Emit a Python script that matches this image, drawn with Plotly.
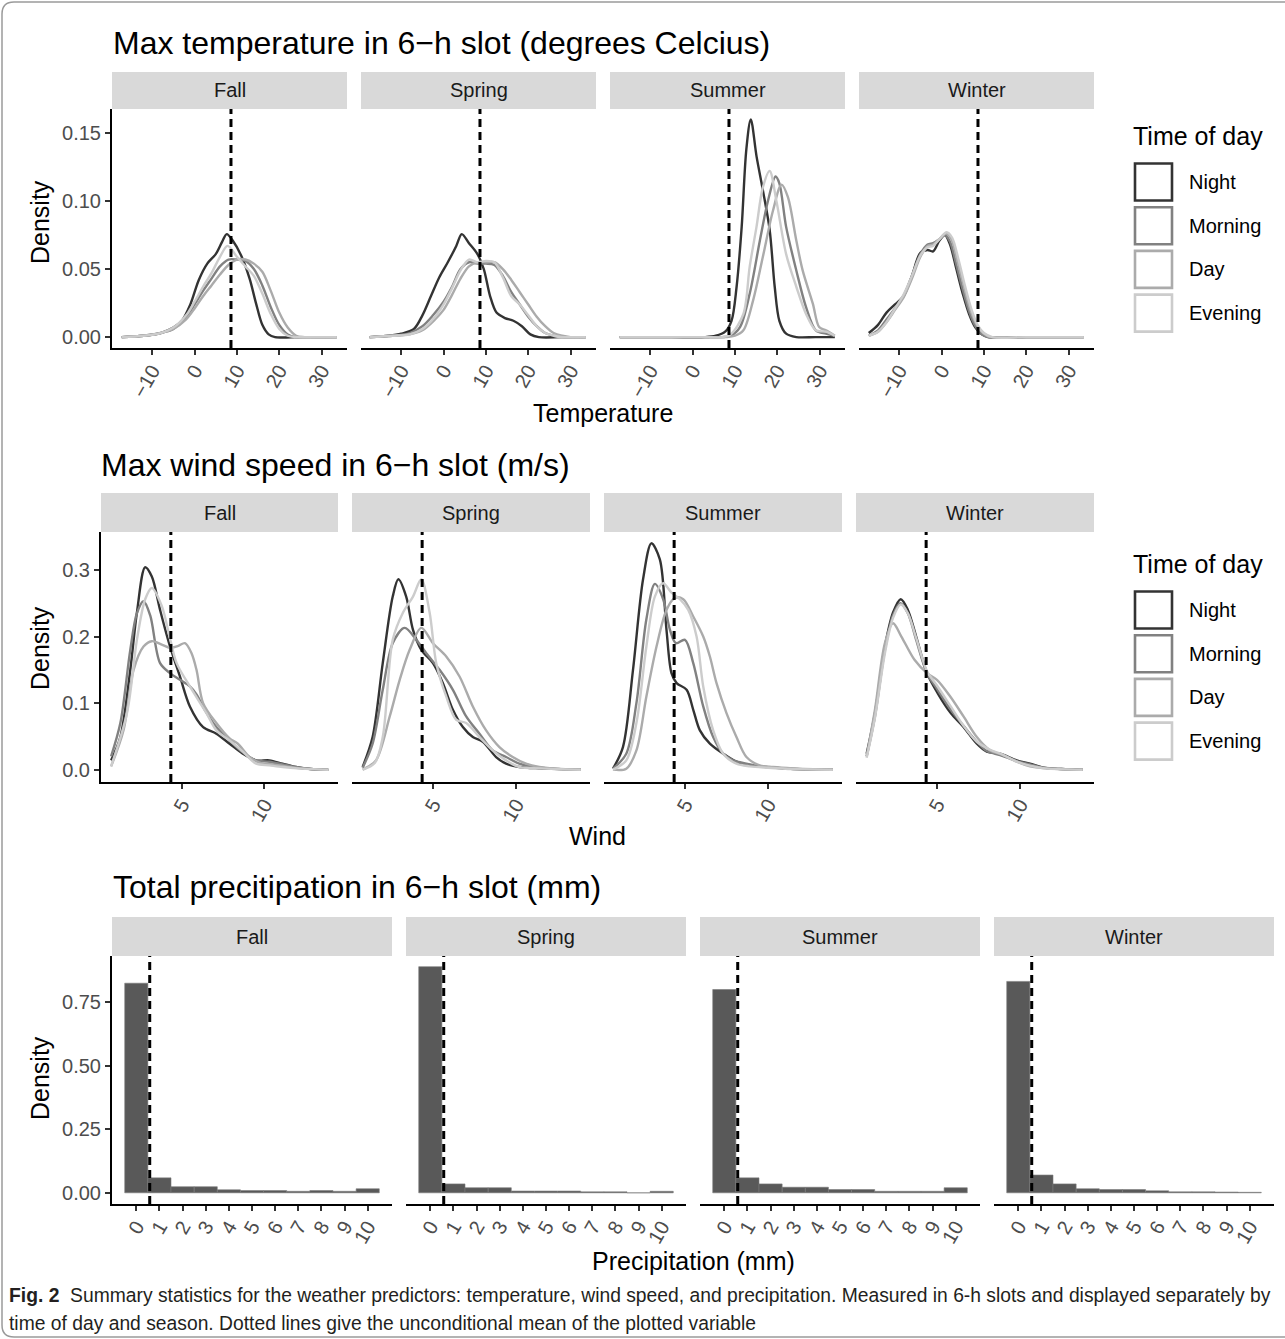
import plotly.graph_objects as go

W, H = 1285, 1339
FONT = "Liberation Sans, Arial, sans-serif"

# ---------------- categories ----------------
seasons = ["Fall", "Spring", "Summer", "Winter"]
times = ["Night", "Morning", "Day", "Evening"]
time_colors = ["#333333", "#818181", "#ABABAB", "#CCCCCC"]

# ---------------- tick labels ----------------
temp_ticks = [-10, 0, 10, 20, 30]
temp_ticklabels = ["−10", "0", "10", "20", "30"]
wind_ticks = [5, 10]
wind_ticklabels = ["5", "10"]
precip_ticks = [0, 1, 2, 3, 4, 5, 6, 7, 8, 9, 10]
precip_ticklabels = ["0", "1", "2", "3", "4", "5", "6", "7", "8", "9", "10"]
temp_yticks = [0.0, 0.05, 0.10, 0.15]
wind_yticks = [0.0, 0.1, 0.2, 0.3]
precip_yticks = [0.0, 0.25, 0.50, 0.75]

# ---------------- unconditional means (dashed lines) ----------------
temp_mean = 8.6
wind_mean = 4.35
precip_mean = 0.58

# ---------------- temperature densities (T, density) ----------------
temp_fall_night = [(-17.2, 0), (-12, 0.001), (-8, 0.003), (-5, 0.007), (-3, 0.012), (-1, 0.024), (1, 0.042), (3, 0.054), (5, 0.061), (6.5, 0.07), (7.6, 0.0757), (9, 0.071), (11, 0.06), (13, 0.043), (14.5, 0.025), (16, 0.009), (17.5, 0.002), (19, 0.0), (25, 0), (33.6, 0)]
temp_fall_morning = [(-17.2, 0), (-12, 0.001), (-8, 0.003), (-5, 0.006), (-2, 0.015), (0, 0.024), (2, 0.034), (4, 0.043), (6, 0.052), (8, 0.057), (10, 0.057), (12, 0.056), (14, 0.05), (16, 0.038), (18, 0.022), (20, 0.009), (22, 0.002), (24, 0), (29, 0), (33.6, 0)]
temp_fall_day = [(-17.2, 0), (-12, 0.001), (-8, 0.003), (-5, 0.006), (-2, 0.013), (0, 0.021), (2, 0.03), (4, 0.038), (6, 0.046), (8, 0.053), (10, 0.057), (12, 0.057), (14, 0.054), (16, 0.048), (18, 0.034), (20, 0.018), (22, 0.007), (24, 0.001), (26, 0), (33.6, 0)]
temp_fall_evening = [(-17.2, 0), (-12, 0.001), (-8, 0.003), (-5, 0.007), (-2, 0.016), (0, 0.026), (2, 0.037), (4, 0.047), (6, 0.059), (7.8, 0.067), (10, 0.059), (12, 0.052), (14, 0.045), (16, 0.032), (18, 0.017), (20, 0.006), (22, 0.001), (24, 0), (29, 0), (33.6, 0)]

temp_spring_night = [(-17.5, 0), (-13, 0.001), (-10, 0.0025), (-7, 0.006), (-5, 0.016), (-3, 0.03), (-1, 0.044), (1, 0.055), (3, 0.067), (4.3, 0.0757), (6, 0.069), (8, 0.061), (9.5, 0.05), (11, 0.03), (12.5, 0.018), (14.5, 0.014), (16.5, 0.012), (18.5, 0.008), (20.5, 0.002), (22.5, 0), (28, 0), (33.6, 0)]
temp_spring_morning = [(-17.5, 0), (-12, 0.001), (-8, 0.003), (-5, 0.008), (-2.5, 0.016), (0, 0.026), (2, 0.037), (4, 0.05), (6, 0.055), (8, 0.054), (10, 0.054), (12, 0.053), (14, 0.045), (16, 0.033), (18, 0.024), (20, 0.015), (22, 0.008), (24, 0.003), (26, 0.001), (28, 0), (33.6, 0)]
temp_spring_day = [(-17.5, 0), (-12, 0.001), (-8, 0.002), (-5, 0.005), (-2, 0.013), (0, 0.02), (2, 0.031), (4, 0.043), (6, 0.052), (8, 0.055), (10, 0.055), (12, 0.055), (14, 0.05), (16, 0.042), (18, 0.033), (20, 0.024), (22, 0.015), (24, 0.008), (26, 0.003), (28, 0.001), (30, 0), (33.6, 0)]
temp_spring_evening = [(-17.5, 0), (-12, 0.001), (-8, 0.002), (-5, 0.006), (-2, 0.015), (0, 0.024), (2, 0.036), (4, 0.049), (6, 0.057), (8, 0.055), (10, 0.056), (12, 0.055), (14, 0.044), (16, 0.03), (18, 0.024), (20, 0.016), (22, 0.008), (24, 0.003), (26, 0.001), (28, 0), (33.6, 0)]

temp_summer_night = [(-17.2, 0), (-5, 0), (3, 0), (5.5, 0.001), (7.7, 0.004), (9.2, 0.012), (10.4, 0.037), (11.6, 0.081), (12.7, 0.138), (13.75, 0.16), (15.1, 0.133), (16.6, 0.108), (18.2, 0.079), (19.4, 0.037), (20.5, 0.012), (22.1, 0.0025), (24.5, 0), (29, 0), (33.6, 0)]
temp_summer_morning = [(-17.2, 0), (-5, 0), (3, 0), (7, 0), (9, 0.001), (11.2, 0.0074), (13.5, 0.032), (15.9, 0.071), (17.8, 0.1), (19.6, 0.118), (20.5, 0.113), (22.1, 0.081), (24.5, 0.049), (26.8, 0.022), (29.1, 0.005), (31.5, 0.0025), (33.6, 0.001)]
temp_summer_day = [(-17.2, 0), (-5, 0), (3, 0), (8, 0), (10, 0.001), (12, 0.005), (14.3, 0.027), (16.6, 0.059), (19, 0.093), (21, 0.112), (22.5, 0.103), (24.5, 0.071), (26, 0.049), (28.4, 0.0246), (29.9, 0.0074), (31.5, 0.005), (33.6, 0.001)]
temp_summer_evening = [(-17.2, 0), (-5, 0), (3, 0), (7, 0), (9, 0.002), (12, 0.017), (13.5, 0.052), (15.1, 0.081), (16.6, 0.11), (18.2, 0.122), (19.8, 0.1), (22.1, 0.061), (24.5, 0.037), (26.8, 0.017), (29.1, 0.005), (31.5, 0.004), (33.6, 0.001)]

temp_winter_night = [(-17.2, 0.003), (-15, 0.009), (-13, 0.018), (-11, 0.024), (-9, 0.03), (-7, 0.045), (-5, 0.062), (-3.3, 0.064), (-2, 0.063), (-0.5, 0.071), (0.8, 0.075), (2, 0.068), (3.5, 0.05), (5, 0.032), (6.5, 0.017), (8, 0.007), (9.5, 0.002), (11, 0), (20, 0), (33.6, 0)]
temp_winter_morning = [(-17.2, 0.001), (-15, 0.005), (-13, 0.013), (-11, 0.021), (-9, 0.03), (-7, 0.045), (-5, 0.061), (-3.3, 0.068), (-2, 0.069), (-0.5, 0.072), (0.8, 0.075), (2, 0.07), (3.5, 0.053), (5, 0.035), (6.5, 0.019), (8, 0.008), (9.5, 0.002), (11, 0), (20, 0), (33.6, 0)]
temp_winter_day = [(-17.2, 0.001), (-15, 0.004), (-13, 0.011), (-11, 0.02), (-9, 0.029), (-7, 0.043), (-5, 0.059), (-3.3, 0.067), (-2, 0.068), (-0.5, 0.072), (1, 0.076), (2.3, 0.072), (3.8, 0.055), (5.3, 0.037), (6.8, 0.02), (8.3, 0.009), (9.8, 0.003), (11.5, 0), (20, 0), (33.6, 0)]
temp_winter_evening = [(-17.2, 0.001), (-15, 0.004), (-13, 0.011), (-11, 0.021), (-9, 0.031), (-7, 0.045), (-5, 0.06), (-3.3, 0.066), (-2, 0.067), (-0.5, 0.072), (1.2, 0.077), (2.5, 0.073), (4, 0.057), (5.5, 0.038), (7, 0.021), (8.5, 0.009), (10, 0.003), (12, 0), (20, 0), (33.6, 0)]

# ---------------- wind densities (m/s, density) ----------------
wind_fall_night = [(0.74, 0.014), (1.3, 0.049), (1.9, 0.15), (2.3, 0.236), (2.8, 0.304), (3.2, 0.29), (3.7, 0.24), (4.3, 0.185), (4.9, 0.14), (5.5, 0.095), (6.3, 0.064), (7.1, 0.054), (7.9, 0.039), (8.7, 0.024), (9.5, 0.014), (10.3, 0.014), (11.1, 0.009), (11.9, 0.004), (12.8, 0.001), (13.86, 0)]
wind_fall_morning = [(0.74, 0.02), (1.3, 0.07), (1.9, 0.18), (2.3, 0.235), (2.7, 0.253), (3.1, 0.232), (3.7, 0.16), (4.3, 0.145), (4.9, 0.135), (5.5, 0.125), (5.9, 0.113), (6.4, 0.09), (7.1, 0.064), (7.9, 0.044), (8.7, 0.026), (9.5, 0.014), (10.3, 0.012), (11.1, 0.008), (11.9, 0.004), (12.8, 0.001), (13.86, 0)]
wind_fall_day = [(0.74, 0.005), (1.5, 0.06), (2.1, 0.15), (2.7, 0.185), (3.2, 0.193), (3.8, 0.188), (4.3, 0.183), (4.8, 0.186), (5.2, 0.19), (5.6, 0.175), (5.9, 0.15), (6.3, 0.1), (7.1, 0.07), (7.9, 0.047), (8.4, 0.039), (9.1, 0.019), (9.8, 0.01), (10.5, 0.008), (11.3, 0.005), (12.2, 0.002), (13.86, 0)]
wind_fall_evening = [(0.74, 0.005), (1.7, 0.085), (2.3, 0.195), (2.8, 0.256), (3.2, 0.273), (3.8, 0.246), (4.3, 0.197), (4.7, 0.16), (5.5, 0.125), (6.5, 0.085), (7.1, 0.059), (7.9, 0.044), (8.7, 0.027), (9.5, 0.009), (10.3, 0.0065), (11.1, 0.004), (12, 0.002), (13.86, 0)]

wind_spring_night = [(0.77, 0.004), (1.37, 0.049), (1.98, 0.16), (2.58, 0.26), (2.92, 0.286), (3.39, 0.26), (3.8, 0.21), (4.3, 0.18), (5, 0.16), (5.6, 0.13), (6.2, 0.09), (6.8, 0.064), (7.4, 0.049), (8, 0.042), (8.8, 0.019), (9.4, 0.009), (10.2, 0.004), (11.5, 0.002), (13.9, 0)]
wind_spring_morning = [(0.77, 0.003), (1.37, 0.039), (1.98, 0.12), (2.58, 0.19), (3.3, 0.213), (4.0, 0.195), (4.6, 0.175), (5.4, 0.15), (6.2, 0.12), (7.0, 0.08), (7.8, 0.054), (8.6, 0.029), (9.4, 0.019), (10.2, 0.009), (11, 0.004), (12, 0.002), (13.9, 0)]
wind_spring_day = [(0.77, 0), (1.57, 0.014), (2.4, 0.08), (3, 0.135), (3.6, 0.18), (4.3, 0.213), (5, 0.19), (5.8, 0.17), (6.6, 0.14), (7.4, 0.095), (8.2, 0.059), (9, 0.034), (9.8, 0.019), (10.6, 0.009), (11.4, 0.004), (12.5, 0.001), (13.9, 0)]
wind_spring_evening = [(0.77, 0), (1.5, 0.01), (1.98, 0.049), (2.58, 0.195), (3.2, 0.236), (3.8, 0.26), (4.3, 0.286), (4.8, 0.236), (5.2, 0.16), (5.8, 0.11), (6.4, 0.075), (7.0, 0.07), (7.8, 0.049), (8.6, 0.029), (9.4, 0.014), (10.2, 0.004), (11.5, 0.002), (13.9, 0)]

wind_summer_night = [(0.67, 0.0015), (1.27, 0.034), (1.875, 0.15), (2.48, 0.286), (2.98, 0.34), (3.49, 0.316), (3.89, 0.21), (4.19, 0.145), (4.5, 0.13), (5.1, 0.12), (5.5, 0.09), (5.9, 0.059), (6.5, 0.039), (7.3, 0.024), (8.1, 0.012), (8.9, 0.0065), (9.9, 0.004), (11.5, 0.001), (13.9, 0)]
wind_summer_morning = [(0.67, 0.0015), (1.47, 0.024), (2.08, 0.1), (2.68, 0.226), (3.19, 0.279), (3.69, 0.256), (4.1, 0.21), (4.46, 0.19), (5, 0.195), (5.5, 0.16), (6.1, 0.095), (6.7, 0.049), (7.3, 0.024), (7.9, 0.014), (8.7, 0.009), (9.5, 0.005), (11, 0.002), (13.9, 0)]
wind_summer_day = [(0.67, 0), (1.47, 0.0015), (2.08, 0.029), (2.68, 0.11), (3.29, 0.185), (3.89, 0.24), (4.4, 0.258), (4.9, 0.256), (5.5, 0.23), (6.1, 0.2), (6.5, 0.17), (6.9, 0.13), (7.5, 0.085), (8.1, 0.049), (8.7, 0.019), (9.5, 0.0065), (10.3, 0.004), (11.5, 0.002), (13.9, 0)]
wind_summer_evening = [(0.67, 0), (1.47, 0.014), (2.08, 0.07), (2.68, 0.185), (3.19, 0.26), (3.69, 0.28), (4.19, 0.266), (4.7, 0.256), (5.2, 0.24), (5.7, 0.2), (6.1, 0.125), (6.7, 0.059), (7.3, 0.024), (8.1, 0.009), (8.9, 0.005), (10, 0.003), (11.5, 0.001), (13.9, 0)]

wind_winter_night = [(0.77, 0.024), (1.27, 0.085), (1.87, 0.185), (2.36, 0.236), (2.82, 0.256), (3.25, 0.24), (3.75, 0.2), (4.4, 0.145), (5.04, 0.115), (5.83, 0.085), (6.6, 0.064), (7.4, 0.039), (8, 0.027), (8.8, 0.024), (9.8, 0.014), (10.6, 0.009), (11.4, 0.003), (12.5, 0.001), (13.77, 0)]
wind_winter_morning = [(0.77, 0.02), (1.27, 0.08), (1.87, 0.18), (2.36, 0.232), (2.8, 0.25), (3.25, 0.235), (3.75, 0.195), (4.4, 0.145), (5.04, 0.12), (5.83, 0.09), (6.6, 0.066), (7.4, 0.042), (8, 0.028), (8.8, 0.022), (9.8, 0.013), (10.6, 0.008), (11.4, 0.003), (12.5, 0.001), (13.77, 0)]
wind_winter_day = [(0.77, 0.02), (1.27, 0.09), (1.87, 0.19), (2.36, 0.22), (2.86, 0.2), (3.65, 0.165), (4.4, 0.145), (5, 0.135), (5.8, 0.11), (6.6, 0.08), (7.4, 0.049), (8.2, 0.029), (9, 0.022), (9.8, 0.012), (10.6, 0.005), (11.5, 0.002), (13.77, 0)]
wind_winter_evening = [(0.77, 0.018), (1.27, 0.078), (1.87, 0.175), (2.36, 0.228), (2.82, 0.248), (3.25, 0.235), (3.75, 0.198), (4.4, 0.148), (5.04, 0.125), (5.83, 0.095), (6.6, 0.066), (7.4, 0.042), (8.2, 0.03), (9, 0.022), (9.8, 0.012), (10.6, 0.006), (11.5, 0.002), (13.77, 0)]

# ---------------- precipitation histograms (density per 1 mm bin) ----------------
precip_bins = [0, 1, 2, 3, 4, 5, 6, 7, 8, 9, 10]
precip_fall = [0.825, 0.059, 0.024, 0.024, 0.012, 0.009, 0.009, 0.006, 0.009, 0.006, 0.016]
precip_spring = [0.89, 0.035, 0.02, 0.02, 0.007, 0.007, 0.007, 0.004, 0.004, 0.0, 0.006]
precip_summer = [0.80, 0.059, 0.035, 0.022, 0.022, 0.013, 0.013, 0.006, 0.006, 0.006, 0.02]
precip_winter = [0.832, 0.07, 0.035, 0.016, 0.013, 0.013, 0.008, 0.004, 0.004, 0.003, 0.002]

# ---------------- tables built from the lists ----------------
temp_curves = {
    "Fall": [temp_fall_night, temp_fall_morning, temp_fall_day, temp_fall_evening],
    "Spring": [temp_spring_night, temp_spring_morning, temp_spring_day, temp_spring_evening],
    "Summer": [temp_summer_night, temp_summer_morning, temp_summer_day, temp_summer_evening],
    "Winter": [temp_winter_night, temp_winter_morning, temp_winter_day, temp_winter_evening],
}
wind_curves = {
    "Fall": [wind_fall_night, wind_fall_morning, wind_fall_day, wind_fall_evening],
    "Spring": [wind_spring_night, wind_spring_morning, wind_spring_day, wind_spring_evening],
    "Summer": [wind_summer_night, wind_summer_morning, wind_summer_day, wind_summer_evening],
    "Winter": [wind_winter_night, wind_winter_morning, wind_winter_day, wind_winter_evening],
}
precip_hist = {"Fall": precip_fall, "Spring": precip_spring, "Summer": precip_summer, "Winter": precip_winter}


def fx(px):
    return px / W


def fy(py):
    return 1 - py / H


rows = [
    dict(kind="curve", data=temp_curves, mean=temp_mean,
         title="Max temperature in 6−h slot (degrees Celcius)", title_pos=(111, 43),
         strip=(72, 109), bottom=348,
         panels=[(112, 347), (361, 596), (610, 845), (859, 1094)],
         xrange=[-19.5, 36], yrange=[-0.008, 0.1676],
         xticks=temp_ticks, xticklabels=temp_ticklabels, yticks=temp_yticks, yfmt=".2f",
         xtitle="Temperature", xtitle_pos=(603, 413), ytitle_pos=(40, 222),
         legend=dict(title_y=136, first=182)),
    dict(kind="curve", data=wind_curves, mean=wind_mean,
         title="Max wind speed in 6−h slot (m/s)", title_pos=(99, 465),
         strip=(493, 532), bottom=782,
         panels=[(101, 338), (352, 590), (604, 842), (856, 1094)],
         xrange=[0.13, 14.45], yrange=[-0.0185, 0.357],
         xticks=wind_ticks, xticklabels=wind_ticklabels, yticks=wind_yticks, yfmt=".1f",
         xtitle="Wind", xtitle_pos=(597, 836), ytitle_pos=(40, 648),
         legend=dict(title_y=564, first=610)),
    dict(kind="hist", data=precip_hist, mean=precip_mean,
         title="Total precitipation in 6−h slot (mm)", title_pos=(111, 887),
         strip=(917, 956), bottom=1204,
         panels=[(112, 392), (406, 686), (700, 980), (994, 1274)],
         xrange=[-1.05, 11.05], yrange=[-0.044, 0.932],
         xticks=precip_ticks, xticklabels=precip_ticklabels, yticks=precip_yticks, yfmt=".2f",
         xtitle="Precipitation (mm)", xtitle_pos=(693, 1261), ytitle_pos=(40, 1078),
         legend=None),
]

fig = go.Figure()
layout = dict(
    width=W, height=H, autosize=False,
    margin=dict(l=0, r=0, t=0, b=0, pad=0),
    paper_bgcolor="white", plot_bgcolor="white",
    showlegend=False, font=dict(family=FONT, color="#1a1a1a"),
)
shapes = []
annotations = []

k = 0
for r, row in enumerate(rows):
    for p, season in enumerate(seasons):
        k += 1
        xa = "x" if k == 1 else f"x{k}"
        ya = "y" if k == 1 else f"y{k}"
        x0, x1 = row["panels"][p]
        st, sb = row["strip"]
        first = p == 0
        layout["xaxis" if k == 1 else f"xaxis{k}"] = dict(
            domain=[fx(x0), fx(x1)], anchor=ya, range=row["xrange"],
            showline=True, linecolor="black", linewidth=2,
            ticks="outside", ticklen=5, tickwidth=1.5, tickcolor="#333333",
            tickvals=row["xticks"], ticktext=row["xticklabels"], tickangle=-60,
            ticklabelstandoff=-4,
            tickfont=dict(size=20, color="#4d4d4d", family=FONT),
            showgrid=False, zeroline=False, fixedrange=True,
        )
        layout["yaxis" if k == 1 else f"yaxis{k}"] = dict(
            domain=[fy(row["bottom"]), fy(sb)], anchor=xa, range=row["yrange"],
            showline=first, linecolor="black", linewidth=2,
            ticks="outside" if first else "", ticklen=5, tickwidth=1.5, tickcolor="#333333",
            tickvals=row["yticks"], tickformat=row["yfmt"], showticklabels=first,
            tickfont=dict(size=20, color="#4d4d4d", family=FONT),
            showgrid=False, zeroline=False, fixedrange=True,
        )
        # traces
        if row["kind"] == "curve":
            for t, curve in enumerate(row["data"][season]):
                fig.add_trace(go.Scatter(
                    x=[pt[0] for pt in curve], y=[pt[1] for pt in curve],
                    mode="lines", line=dict(color=time_colors[t], width=2.4, shape="spline", smoothing=0.9),
                    xaxis=xa, yaxis=ya, name=times[t], hoverinfo="skip",
                ))
        else:
            fig.add_trace(go.Bar(
                x=precip_bins, y=row["data"][season], width=1.0,
                marker=dict(color="#595959", line=dict(width=0.6, color="#7a7a7a")),
                xaxis=xa, yaxis=ya, hoverinfo="skip",
            ))
        # mean line
        shapes.append(dict(type="line", xref=xa, yref=f"{ya} domain",
                           x0=row["mean"], x1=row["mean"], y0=0, y1=1,
                           line=dict(color="black", width=3, dash="8px,5px"), layer="above"))
        # strip
        shapes.append(dict(type="rect", xref="paper", yref="paper",
                           x0=fx(x0), x1=fx(x1), y0=fy(sb), y1=fy(st),
                           fillcolor="#D9D9D9", line=dict(width=0), layer="below"))
        annotations.append(dict(text=season, xref="paper", yref="paper",
                                x=fx((x0 + x1) / 2), y=fy((st + sb) / 2),
                                xanchor="center", yanchor="middle", showarrow=False,
                                font=dict(size=20, color="#1a1a1a", family=FONT)))
    # row title
    annotations.append(dict(text=row["title"], xref="paper", yref="paper",
                            x=fx(row["title_pos"][0]), y=fy(row["title_pos"][1]),
                            xanchor="left", yanchor="middle", showarrow=False,
                            font=dict(size=32, color="black", family=FONT)))
    # axis titles
    annotations.append(dict(text=row["xtitle"], xref="paper", yref="paper",
                            x=fx(row["xtitle_pos"][0]), y=fy(row["xtitle_pos"][1]),
                            xanchor="center", yanchor="middle", showarrow=False,
                            font=dict(size=25, color="black", family=FONT)))
    annotations.append(dict(text="Density", xref="paper", yref="paper", textangle=-90,
                            x=fx(row["ytitle_pos"][0]), y=fy(row["ytitle_pos"][1]),
                            xanchor="center", yanchor="middle", showarrow=False,
                            font=dict(size=25, color="black", family=FONT)))
    # legend
    lg = row["legend"]
    if lg:
        annotations.append(dict(text="Time of day", xref="paper", yref="paper",
                                x=fx(1131), y=fy(lg["title_y"]), xanchor="left", yanchor="middle",
                                showarrow=False, font=dict(size=25, color="black", family=FONT)))
        for t, name in enumerate(times):
            cy = lg["first"] + t * 43.7
            shapes.append(dict(type="rect", xref="paper", yref="paper",
                               x0=fx(1135), x1=fx(1172), y0=fy(cy + 18.5), y1=fy(cy - 18.5),
                               fillcolor="white", line=dict(color=time_colors[t], width=2.6)))
            annotations.append(dict(text=name, xref="paper", yref="paper",
                                    x=fx(1187), y=fy(cy), xanchor="left", yanchor="middle",
                                    showarrow=False, font=dict(size=20, color="black", family=FONT)))

# caption
cap_font = "Liberation Sans, Arial, sans-serif"
annotations.append(dict(
    text="<b>Fig. 2</b>  Summary statistics for the weather predictors: temperature, wind speed, and precipitation. Measured in 6-h slots and displayed separately by",
    xref="paper", yref="paper", x=fx(7), y=fy(1295), xanchor="left", yanchor="middle",
    showarrow=False, font=dict(size=19.3, color="#231F20", family=cap_font)))
annotations.append(dict(
    text="time of day and season. Dotted lines give the unconditional mean of the plotted variable",
    xref="paper", yref="paper", x=fx(7), y=fy(1323), xanchor="left", yanchor="middle",
    showarrow=False, font=dict(size=19.3, color="#231F20", family=cap_font)))

# rounded frame around the figure
r = 12
path = (f"M {fx(1285)},{fy(2)} L {fx(2 + r)},{fy(2)} Q {fx(2)},{fy(2)} {fx(2)},{fy(2 + r)} "
        f"L {fx(2)},{fy(1337 - r)} Q {fx(2)},{fy(1337)} {fx(2 + r)},{fy(1337)} L {fx(1285)},{fy(1337)}")
shapes.append(dict(type="path", xref="paper", yref="paper", path=path,
                   line=dict(color="#9a9a9a", width=1.5)))

layout["shapes"] = shapes
layout["annotations"] = annotations
fig.update_layout(**layout)
fig.write_html(
    "out.html",
    config={"displayModeBar": False},
    post_script="document.body.style.margin='0px';document.body.style.padding='0px';document.body.style.overflow='hidden';",
)
